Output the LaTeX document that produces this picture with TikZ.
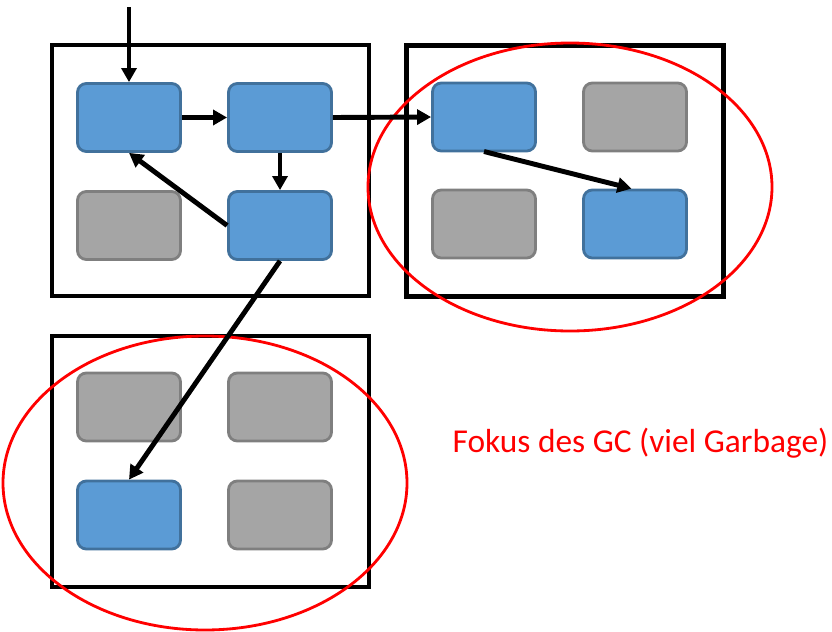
\documentclass[tikz,border=0pt]{standalone}
\usepackage{fontspec}
\setmainfont{Carlito}
\usetikzlibrary{arrows.meta}

\definecolor{objblue}{HTML}{5B9BD5}
\definecolor{objblueline}{HTML}{41719C}
\definecolor{objgray}{HTML}{A5A5A5}
\definecolor{objgrayline}{HTML}{7F7F7F}

\begin{document}
\begin{tikzpicture}[x=0.02cm,y=-0.02cm,
    obj/.style={rectangle,rounded corners=5pt,minimum width=2.06cm,minimum height=1.36cm,line width=1.6pt},
    live/.style={obj,fill=objblue,draw=objblueline},
    dead/.style={obj,fill=objgray,draw=objgrayline},
    region/.style={draw,line width=2.4pt,rectangle,minimum width=6.34cm,minimum height=5.02cm},
    ref/.style={line width=2.8pt,-{Triangle[length=8pt,width=8.5pt]}},
    focus/.style={red,line width=1.6pt}]
    \useasboundingbox (0,0) rectangle (832,632);
    % Draw the three regions
    \node[region] (r1) at (210.5,170.5) {};
    \node[region] (r2) at (565,171) {};
    \node[region] (r3) at (210.5,461.5) {};
    % Objects in the first region
    \node[live] (a) at (129,117.5) {};
    \node[live] (b) at (280,117.5) {};
    \node[dead] (c) at (129,225.5) {};
    \node[live] (d) at (280,225.5) {};
    % Objects in the second region
    \node[live] (e) at (484,117) {};
    \node[dead] (f) at (635,117) {};
    \node[dead] (g) at (484,224) {};
    \node[live] (h) at (635,224) {};
    % Objects in the third region
    \node[dead] (i) at (129,407) {};
    \node[dead] (j) at (280,407) {};
    \node[live] (k) at (129,515) {};
    \node[dead] (l) at (280,515) {};
    % Regions the GC looks at first
    \draw[focus] (570,187) ellipse (202 and 144);
    \draw[focus] (205,483) ellipse (202 and 147);
    \node[red,anchor=base,font=\fontsize{19}{23}\selectfont] (label) at (640.5,452) {Fokus des GC (viel Garbage)};
    % Draw the references
    \coordinate (root) at (129,7);
    \draw[ref] (root) -- (a.north);
    \draw[ref] (a.east) -- (b.west);
    \draw[ref] (b.south) -- (d.north);
    \draw[ref] (d.west) -- (a.south);
    \draw[ref] (b.east) -- (e.west);
    \draw[ref] ([yshift=0.5pt]e.south) -- ([xshift=-2pt]h.north);
    \draw[ref] (d.south) -- (k.north);
\end{tikzpicture}
\end{document}
